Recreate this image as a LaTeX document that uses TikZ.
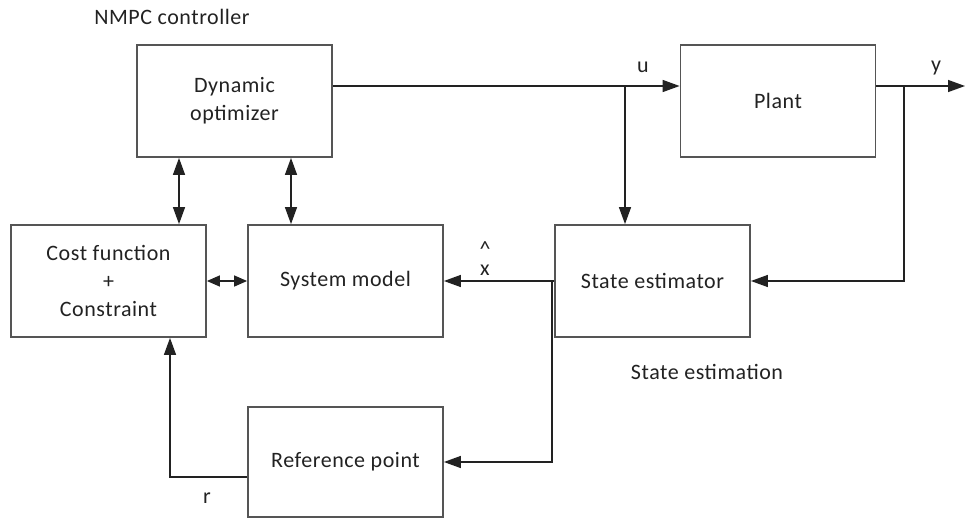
\documentclass[tikz,border=0pt]{standalone}
\usepackage{fontspec}
\setmainfont[LetterSpace=2.5]{Carlito}
\usetikzlibrary{arrows.meta}
\definecolor{ink}{HTML}{222222}
\definecolor{edge}{HTML}{555555}
\begin{document}
\begin{tikzpicture}[x=1pt,y=-1pt,
  font=\fontsize{22}{28}\selectfont,
  blk/.style={draw=edge,line width=1.8pt,minimum width=195pt,minimum height=112pt,
              inner sep=0pt,align=center,text=ink},
  lbl/.style={text=ink,inner sep=0pt,align=center},
  arr/.style={draw=ink,line width=1.4pt,-{Triangle[length=17pt,width=12pt]}},
  darr/.style={draw=ink,line width=1.4pt,{Triangle[length=17pt,width=12pt]}-{Triangle[length=17pt,width=12pt]}},
  sdarr/.style={draw=ink,line width=1.4pt,{Triangle[length=13pt,width=11pt]}-{Triangle[length=13pt,width=11pt]}}]
\useasboundingbox (0,0) rectangle (965,519);

% blocks
\node[blk] (dyn)   at (234.5,101) {Dynamic\\optimizer};
\node[blk] (plant) at (778,101)   {Plant};
\node[blk] (cost)  at (108.5,281) {Cost function\\+\\Constraint};
\node[blk] (sys)   at (345.5,281) {System model};
\node[blk] (est)   at (652.5,281) {State estimator};
\node[blk,minimum height=110pt] (ref) at (345.5,462) {Reference point};

% branch points and free ends
\coordinate (uj)   at (625,86);
\coordinate (yj)   at (904,86);
\coordinate (yout) at (965,86);
\coordinate (xj)   at (552,281);
\coordinate (rc)   at (170,477);
\coordinate (d1)   at (179,0);
\coordinate (d2)   at (291,0);

% signal flow
\draw[arr] (dyn.east |- uj) -- (plant.west |- uj);
\draw[arr] (uj) -- (uj |- est.north);
\draw[arr] (plant.east |- yj) -- (yout);
\draw[arr] (yj) |- (est.east);
\draw[arr] (est.west) -- (sys.east);
\draw[arr] (xj) |- (ref.east);
\draw[arr] (ref.west |- rc) -- (rc) -- (rc |- cost.south);

% two-way links
\draw[darr] (d1 |- dyn.south) -- (d1 |- cost.north);
\draw[darr] (d2 |- dyn.south) -- (d2 |- sys.north);
\draw[sdarr] (cost.east) -- (sys.west);

% labels
\node[lbl] (title) at (172,17)  {NMPC controller};
\node[lbl] (ulab)  at (643,67)  {u};
\node[lbl] (ylab)  at (936,68)  {y};
\node[lbl] (xhat)  at (485,259) {\textasciicircum\\[-9pt]x};
\node[lbl] (rlab)  at (207,498) {r};
\node[lbl] (selab) at (707,372) {State estimation};
\end{tikzpicture}
\end{document}
